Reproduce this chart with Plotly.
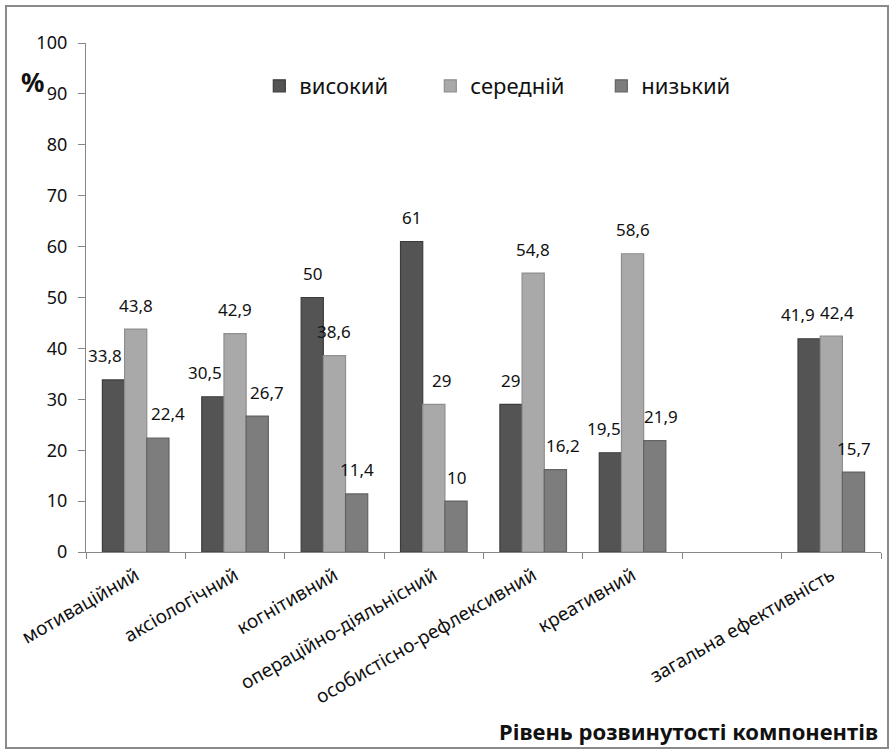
import plotly.graph_objects as go

categories = ["мотиваційний", "аксіологічний", "когнітивний", "операційно-діяльнісний",
              "особистісно-рефлексивний", "креативний", " ", "загальна ефективність"]
series_names = ["високий", "середній", "низький"]
high = [33.8, 30.5, 50, 61, 29, 19.5, None, 41.9]
mid = [43.8, 42.9, 38.6, 29, 54.8, 58.6, None, 42.4]
low = [22.4, 26.7, 11.4, 10, 16.2, 21.9, None, 15.7]
y_ticks = [0, 10, 20, 30, 40, 50, 60, 70, 80, 90, 100]

colors = ["#545454", "#a9a9a9", "#7d7d7d"]
edge = ["#3c3c3c", "#8e8e8e", "#636363"]
FONT = "Noto Sans"

# small label nudges (pixels) to keep neighbouring labels apart, as in the reference
nudge = {(0, 0): -8, (2, 0): 10, (0, 1): -8, (2, 1): 10, (1, 3): 8, (2, 4): 8,
         (0, 5): -6, (2, 5): 6, (0, 7): -11, (1, 7): 6}

W, H = 891, 751
L, R, T, B = 86, 10, 43, 199
bargap = 0.33

fig = go.Figure()
all_series = [high, mid, low]
for name, vals, c, e in zip(series_names, all_series, colors, edge):
    fig.add_trace(go.Bar(x=categories, y=vals, name=name,
                         marker=dict(color=c, line=dict(color=e, width=1.2))))


def fmt(v):
    if float(v).is_integer():
        return str(int(v))
    return str(v).replace(".", ",")


plot_w = W - L - R
ph = H - T - B
bw = plot_w / len(categories) * (1 - bargap) / 3
for i, vals in enumerate(all_series):
    for j, (cat, v) in enumerate(zip(categories, vals)):
        if v is None:
            continue
        fig.add_annotation(x=cat, y=v, text=fmt(v), showarrow=False,
                           xshift=(i - 1) * bw + nudge.get((i, j), 0), yshift=24,
                           yanchor="middle",
                           font=dict(family=FONT, size=17, color="#111111"))

fig.add_annotation(xref="paper", yref="paper", x=-54 / plot_w, y=1 - (82 - T) / ph,
                   text="<b>%</b>", showarrow=False, xanchor="center", yanchor="middle",
                   font=dict(family=FONT, size=26, color="#111111"))
fig.add_annotation(xref="paper", yref="paper", x=1 - 1 / plot_w, y=-(731 - (H - B)) / ph,
                   text="<b>Рівень розвинутості компонентів</b>", showarrow=False,
                   xanchor="right", yanchor="middle",
                   font=dict(family=FONT, size=22, color="#111111"))

# outer border
fig.add_shape(type="rect", xref="paper", yref="paper",
              x0=(6 - L) / plot_w, x1=(888 - L) / plot_w,
              y0=1 - (748 - T) / ph, y1=1 - (6 - T) / ph,
              line=dict(color="#8a8a8a", width=2), fillcolor="rgba(0,0,0,0)", layer="below")

fig.update_layout(
    width=W, height=H,
    margin=dict(l=L, r=R, t=T, b=B, autoexpand=False),
    paper_bgcolor="white", plot_bgcolor="white",
    barmode="group", bargap=bargap, bargroupgap=0,
    font=dict(family=FONT, size=18, color="#111111"),
    legend=dict(orientation="h", x=0.218, y=1 - (86 - T) / ph, xanchor="left", yanchor="middle",
                font=dict(family=FONT, size=22, color="#111111"),
                entrywidth=126, entrywidthmode="pixels", bgcolor="rgba(0,0,0,0)",
                itemwidth=30),
    showlegend=True,
)
fig.update_xaxes(type="category", tickson="boundaries", ticks="outside", ticklen=6,
                 tickcolor="#868686", showline=True, linecolor="#868686", linewidth=1.3,
                 tickangle=-30, tickfont=dict(family=FONT, size=19, color="#111111"),
                 ticklabelstandoff=4,
                 showgrid=False, categoryorder="array", categoryarray=categories)
fig.update_yaxes(range=[0, 100], tickvals=y_ticks, ticks="outside", ticklen=7,
                 tickcolor="#868686", showline=True, linecolor="#868686", linewidth=1.3,
                 showgrid=False, zeroline=False, ticklabelstandoff=7,
                 tickfont=dict(family=FONT, size=18, color="#111111"))

fig.write_html("out.html", config={"displayModeBar": False},
               post_script="document.body.style.margin='0';document.body.style.overflow='hidden';")
